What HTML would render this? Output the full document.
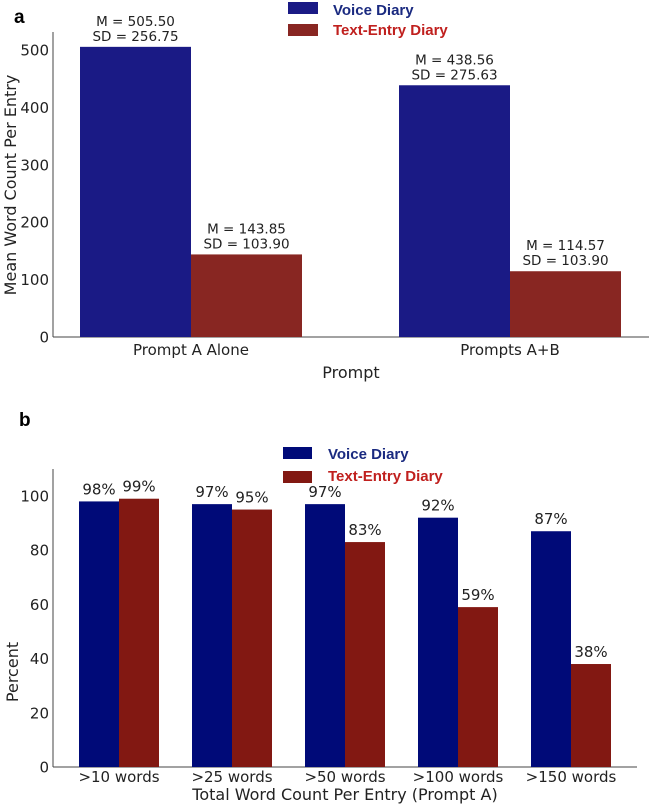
<!DOCTYPE html>
<html><head><meta charset="utf-8"><style>
body{margin:0;background:#fff;}
svg{display:block;font-family:"DejaVu Sans","Liberation Sans",sans-serif;}
</style></head><body>
<svg width="649" height="804" viewBox="0 0 649 804">
<g id="a"></g>
<g id="b"></g>
</svg>
<script>
const NS="http://www.w3.org/2000/svg";
const aCats=["Prompt A Alone","Prompts A+B"];
const aVoice=[505.50,438.56];
const aText=[143.85,114.57];
const aVoiceSD=["256.75","275.63"];
const aTextSD=["103.90","103.90"];
const aTicks=[0,100,200,300,400,500];
const bCats=[">10 words",">25 words",">50 words",">100 words",">150 words"];
const bVoice=[98,97,97,92,87];
const bText=[99,95,83,59,38];
const bTicks=[0,20,40,60,80,100];

function mk(p,t,a,txt){const e=document.createElementNS(NS,t);for(const k in a)e.setAttribute(k,a[k]);if(txt!==undefined)e.textContent=txt;p.appendChild(e);return e;}

// Panel a
(function(){
const g=document.getElementById('a');
const x0=53,x1=649,yb=337,yt=32;
const y=v=>yb-v*0.574;
let e=mk(g,'text',{x:14,y:23,'font-size':19,'font-weight':'bold','font-family':'Liberation Sans, sans-serif'},'a');

e=mk(g,'line',{x1:x0,y1:yt,x2:x0,y2:yb,stroke:'#444'});

e=mk(g,'line',{x1:x0,y1:yb,x2:x1,y2:yb,stroke:'#444'});

aTicks.forEach(t=>{e=mk(g,'text',{x:49,y:y(t)+5.5,'text-anchor':'end','font-size':15,fill:'#222'},String(t));
});
const gw=319,bw=111;
aCats.forEach((c,i)=>{
 const cx=191+i*gw;
 e=mk(g,'rect',{x:cx-bw,y:y(aVoice[i]),width:bw,height:yb-y(aVoice[i]),fill:'#1a1a85'});
 
 e=mk(g,'rect',{x:cx,y:y(aText[i]),width:bw,height:yb-y(aText[i]),fill:'#882622'});
 
 [[cx-bw/2,aVoice[i],aVoiceSD[i]],[cx+bw/2,aText[i],aTextSD[i]]].forEach(([lx,v,sd])=>{
  e=mk(g,'text',{x:lx,y:y(v)-21,'text-anchor':'middle','font-size':13.5,fill:'#222'},'M = '+v.toFixed(2));
  
  e=mk(g,'text',{x:lx,y:y(v)-6,'text-anchor':'middle','font-size':13.5,fill:'#222'},'SD = '+sd);
  
 });
 e=mk(g,'text',{x:cx,y:355,'text-anchor':'middle','font-size':15,fill:'#222'},c);
 
});
e=mk(g,'text',{x:351,y:378,'text-anchor':'middle','font-size':16,fill:'#222'},'Prompt');

e=mk(g,'text',{x:0,y:0,transform:'translate(16,185) rotate(-90)','text-anchor':'middle','font-size':16,fill:'#222'},'Mean Word Count Per Entry');

e=mk(g,'rect',{x:288,y:2,width:30,height:12,fill:'#1a1a85'});

e=mk(g,'text',{x:333,y:15,'font-size':15,'font-weight':'bold',fill:'#1a2a80','font-family':'Liberation Sans, sans-serif'},'Voice Diary');

e=mk(g,'rect',{x:288,y:24,width:30,height:12,fill:'#882622'});

e=mk(g,'text',{x:333,y:35,'font-size':15,'font-weight':'bold',fill:'#c0201e','font-family':'Liberation Sans, sans-serif'},'Text-Entry Diary');

})();

// Panel b
(function(){
const g=document.getElementById('b');
const x0=53,x1=637,yb=767,yt=469;
const y=v=>yb-v*2.71;
let e=mk(g,'text',{x:19,y:426,'font-size':19,'font-weight':'bold','font-family':'Liberation Sans, sans-serif'},'b');

e=mk(g,'line',{x1:x0,y1:yt,x2:x0,y2:yb,stroke:'#444'});

e=mk(g,'line',{x1:x0,y1:yb,x2:x1,y2:yb,stroke:'#444'});

bTicks.forEach(t=>{e=mk(g,'text',{x:49,y:y(t)+5.5,'text-anchor':'end','font-size':15,fill:'#222'},String(t));
});
const gw=113,bw=40;
bCats.forEach((c,i)=>{
 const cx=119+i*gw;
 e=mk(g,'rect',{x:cx-bw,y:y(bVoice[i]),width:bw,height:yb-y(bVoice[i]),fill:'#000a78'});
 
 e=mk(g,'rect',{x:cx,y:y(bText[i]),width:bw,height:yb-y(bText[i]),fill:'#821812'});
 
 e=mk(g,'text',{x:cx-bw/2,y:y(bVoice[i])-7,'text-anchor':'middle','font-size':15,fill:'#222'},bVoice[i]+'%');
 
 e=mk(g,'text',{x:cx+bw/2,y:y(bText[i])-7,'text-anchor':'middle','font-size':15,fill:'#222'},bText[i]+'%');
 
 e=mk(g,'text',{x:cx,y:782,'text-anchor':'middle','font-size':15,fill:'#222'},c);
 
});
e=mk(g,'text',{x:345,y:800,'text-anchor':'middle','font-size':16,fill:'#222'},'Total Word Count Per Entry (Prompt A)');

e=mk(g,'text',{x:0,y:0,transform:'translate(18,672) rotate(-90)','text-anchor':'middle','font-size':16,fill:'#222'},'Percent');

e=mk(g,'rect',{x:283,y:447,width:29,height:12,fill:'#000a78'});

e=mk(g,'text',{x:328,y:459,'font-size':15,'font-weight':'bold',fill:'#1a2a80','font-family':'Liberation Sans, sans-serif'},'Voice Diary');

e=mk(g,'rect',{x:283,y:471,width:29,height:12,fill:'#821812'});

e=mk(g,'text',{x:328,y:481,'font-size':15,'font-weight':'bold',fill:'#c0201e','font-family':'Liberation Sans, sans-serif'},'Text-Entry Diary');

})();
</script>
</body></html>
